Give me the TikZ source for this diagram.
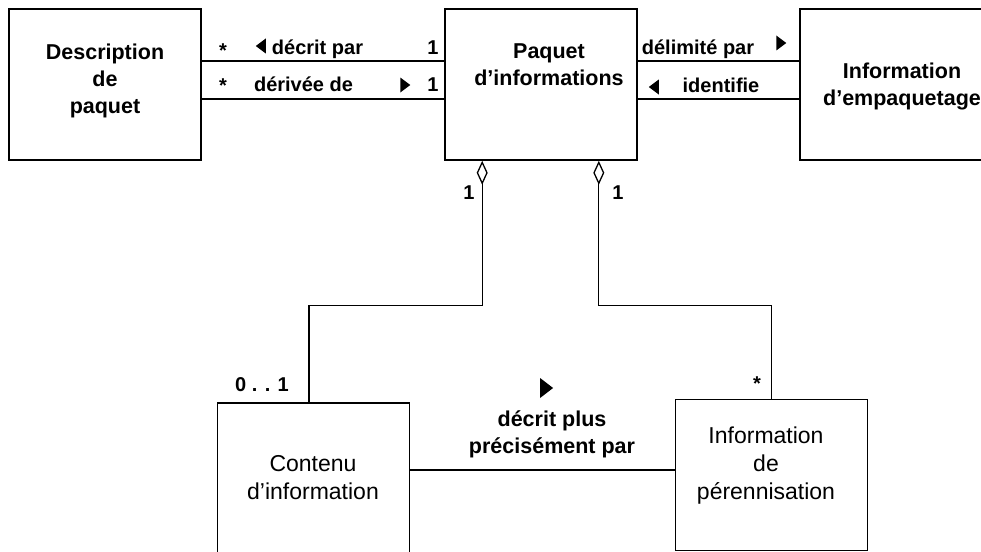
\documentclass[tikz,border=0pt]{standalone}
\usepackage{fontspec}
\setmainfont{Liberation Sans}
\usepackage{tikz}
\usetikzlibrary{positioning}
\usetikzlibrary{calc}
\usetikzlibrary{arrows.meta}
\usetikzlibrary{shapes.geometric}

\begin{document}
\begin{tikzpicture}[
    x=1pt,
    y=1pt,
    classbox/.style={draw, line width=1.6, minimum width=192, minimum height=151, inner sep=0},
    boldtxt/.style={font=\bfseries\fontsize{21.5}{27}\selectfont, align=center, inner sep=0},
    plaintxt/.style={font=\fontsize{23}{28}\selectfont, align=center, inner sep=0},
    lbl/.style={font=\bfseries\fontsize{20}{24}\selectfont, inner sep=0, anchor=base},
    assoc/.style={line width=1.3},
    aggr/.style={line width=1.3, {Diamond[open, length=24pt, width=11pt]}-},
    tri/.style={isosceles triangle, isosceles triangle stretches, fill, inner sep=0,
                minimum height=10, minimum width=15},
]
  \clip (0,0) rectangle (981,-551);

  % classes
  \node[classbox] (dp) at (105,-84.5) {};
  \node[classbox] (pq) at (541,-84.5) {};
  \node[classbox] (ie) at (896,-84.5) {};
  \node[classbox] (ci) at (313.5,-478.5) {};
  \node[classbox] (pe) at (771.5,-475) {};

  \node[boldtxt] (dp-txt) at (105,-80.5) {Description\\de\\paquet};
  \node[boldtxt] (pq-txt) at (549,-65) {Paquet\\d’informations};
  \node[boldtxt] (ie-txt) at (902,-86) {Information\\d’empaquetage};
  \node[plaintxt] (ci-txt) at (313,-478) {Contenu\\d’information};
  \node[plaintxt] (pe-txt) at (766,-466) {Information\\de\\pérennisation};

  % associations
  \draw[assoc] ($(dp.east)+(0,23.5)$) -- ($(pq.west)+(0,23.5)$);
  \draw[assoc] ($(dp.east)+(0,-14.5)$) -- ($(pq.west)+(0,-14.5)$);
  \draw[assoc] ($(pq.east)+(0,23.5)$) -- ($(ie.west)+(0,23.5)$);
  \draw[assoc] ($(pq.east)+(0,-14.5)$) -- ($(ie.west)+(0,-14.5)$);
  \draw[assoc] ($(ci.east)+(0,8.5)$) coordinate (ci-e) -- (ci-e -| pe.west);

  % aggregations
  \draw[aggr] ($(pq.south west)+(38,0)$) -- ++(0,-145) -| ($(ci.north)+(-4.5,0)$);
  \draw[aggr] ($(pq.south east)+(-39,0)$) -- ++(0,-145) -| (pe.north);

  % labels
  \node[lbl] (m1) at (223,-57) {*};
  \node[lbl] (m2) at (223,-92) {*};
  \node[lbl] (m3) at (433,-55) {1};
  \node[lbl] (m4) at (433,-91) {1};
  \node[lbl] (m5) at (469,-199) {1};
  \node[lbl] (m6) at (618,-199) {1};
  \node[lbl] (m7) at (262,-391) {0 . . 1};
  \node[lbl] (m8) at (757,-390) {*};

  \node[lbl] (r1) at (317.5,-55) {décrit par};
  \node[lbl] (r2) at (303.5,-91) {dérivée de};
  \node[lbl] (r3) at (698,-55) {délimité par};
  \node[lbl] (r4) at (721,-92) {identifie};
  \node[boldtxt] (r5) at (552,-434) {décrit plus\\précisément par};

  \node[tri, shape border rotate=180] (t1) at (262,-46) {};
  \node[tri] (t2) at (404,-85) {};
  \node[tri] (t3) at (780,-43) {};
  \node[tri, shape border rotate=180] (t4) at (655,-87) {};
  \node[tri, minimum height=13, minimum width=20] (t5) at (545,-388) {};
\end{tikzpicture}
\end{document}
